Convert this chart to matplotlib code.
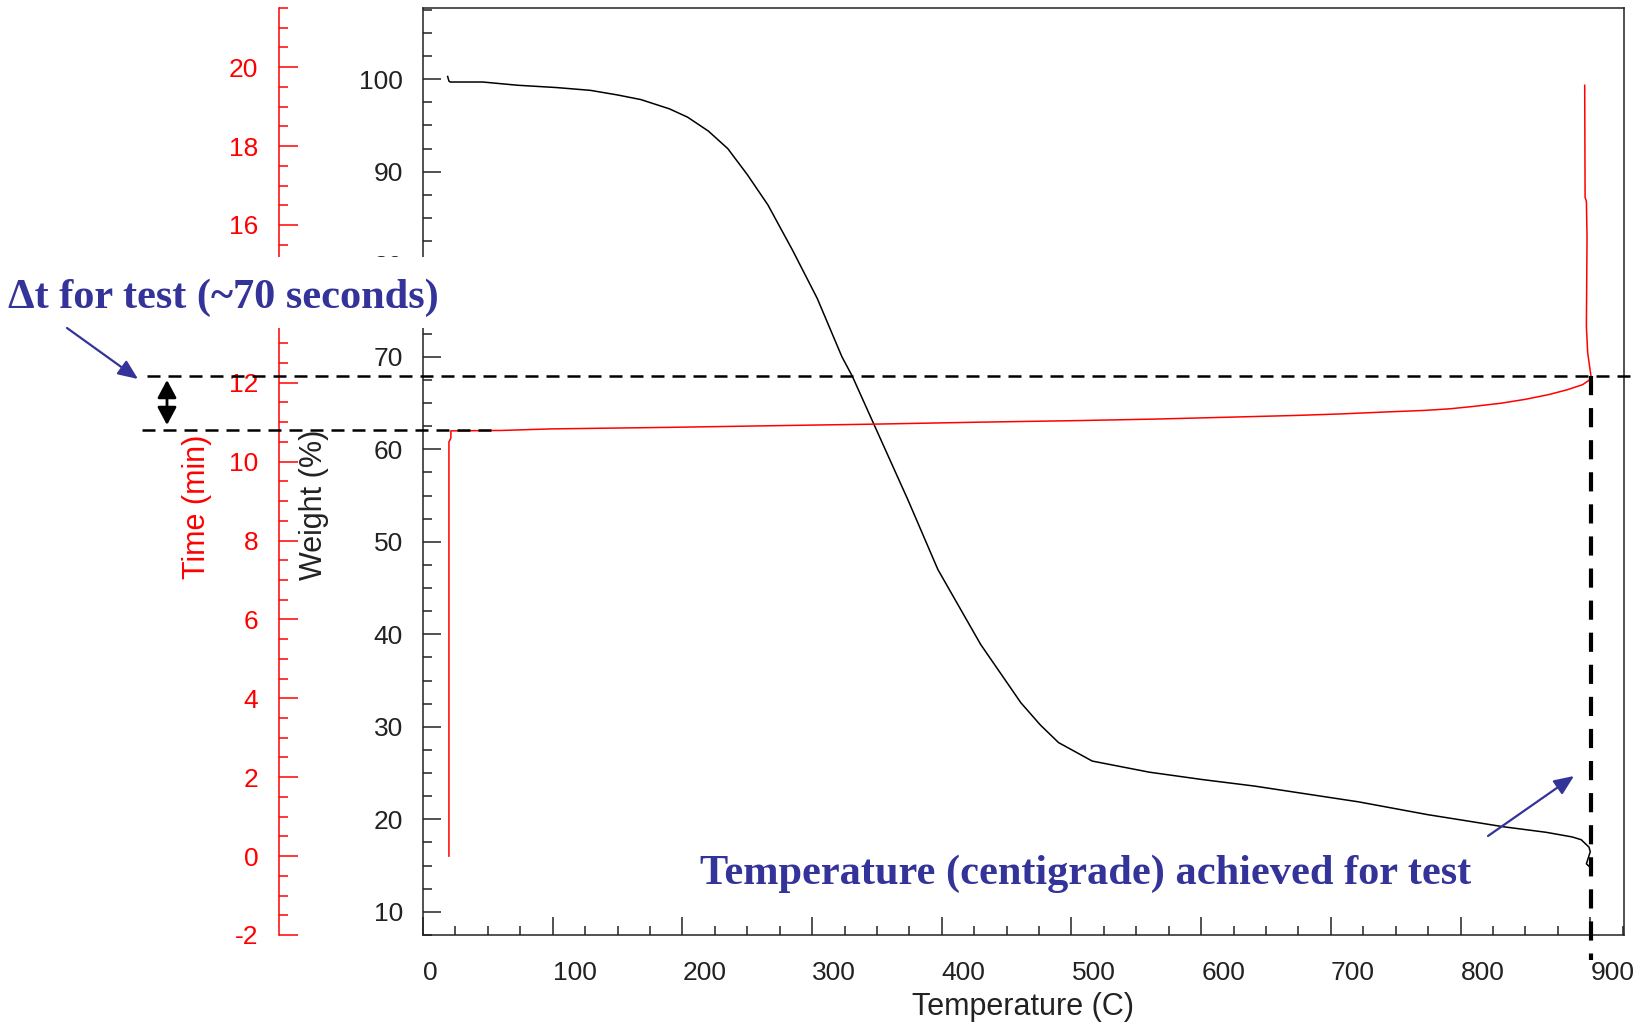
import matplotlib
matplotlib.use('Agg')
import matplotlib.pyplot as plt
from matplotlib.ticker import MultipleLocator
import matplotlib.transforms as mtransforms
from matplotlib.patches import Rectangle

plt.rcParams['font.family'] = ['Liberation Sans', 'DejaVu Sans']
plt.rcParams['axes.unicode_minus'] = False

# ---------------- data ----------------
# Weight (%) vs temperature (C)
temp_w = [19, 20, 21, 46, 73, 103, 129, 150, 168, 190, 204, 220, 235, 250, 266,
          285, 304, 323, 331, 348, 374, 397, 430, 461, 476, 490, 516, 560, 601,
          641, 688, 721, 775, 802, 833, 866, 886, 893, 899, 900, 897, 900]
weight = [100.3, 99.8, 99.7, 99.7, 99.35, 99.1, 98.8, 98.3, 97.8, 96.8, 95.9,
          94.4, 92.5, 89.7, 86.4, 81.5, 76.3, 70.0, 67.9, 62.6, 54.5, 47.0,
          38.9, 32.6, 30.2, 28.3, 26.3, 25.1, 24.3, 23.6, 22.6, 21.9, 20.5,
          19.9, 19.2, 18.6, 18.1, 17.8, 17.0, 16.5, 15.2, 14.8]

# Time (min) vs temperature (C)
temp_t = [20, 20, 21.5, 21.5, 60, 99, 192, 268, 347, 428, 504, 566, 625, 672,
          708, 743, 773, 792, 810, 831, 850, 868, 882, 894, 899, 900.5, 899.5,
          898, 897, 897.5, 897, 896, 895.7]
time_t = [0.0, 10.5, 10.6, 10.78, 10.79, 10.83, 10.87, 10.91, 10.95, 11.00,
          11.04, 11.08, 11.13, 11.17, 11.21, 11.26, 11.30, 11.34, 11.40, 11.48,
          11.58, 11.70, 11.82, 11.95, 12.06, 12.18, 12.41, 12.76, 13.42, 15.7,
          16.6, 16.7, 19.54]

x_ticks = [0, 100, 200, 300, 400, 500, 600, 700, 800, 900]
x_tick_labels = ['0', '100', '200', '300', '400', '500', '600', '700', '800', '900']
w_ticks = [10, 20, 30, 40, 50, 60, 70, 80, 90, 100]
t_ticks = [-2, 0, 2, 4, 6, 8, 10, 12, 14, 16, 18, 20]
t_tick_labels = ['-2', '0', '2', '4', '6', '8', '10', '12', '', '16', '18', '20']

# annotation values
t_test_start = 10.81     # min
t_test_end = 12.18       # min
T_achieved = 900.5       # C

# ---------------- figure ----------------
W_PX, H_PX = 1641, 1025
fig = plt.figure(figsize=(W_PX / 100, H_PX / 100), dpi=100)
ink = '#222222'
blue = '#333399'

L, R, T, B = 423, 1624, 8, 935
ax = fig.add_axes([L / W_PX, 1 - B / H_PX, (R - L) / W_PX, (B - T) / H_PX])
ax.plot(temp_w, weight, color='black', lw=1.1, zorder=3)
ax.set_xlim(0, 926)
ax.set_ylim(7.5, 107.7)
ax.set_xticks(x_ticks)
ax.set_xticklabels(x_tick_labels)
ax.set_yticks(w_ticks)
ax.xaxis.set_minor_locator(MultipleLocator(25))
ax.yaxis.set_minor_locator(MultipleLocator(2.5))
ax.tick_params(which='both', direction='in', colors=ink, width=1.1,
               top=False, right=False)
ax.tick_params(which='major', length=13)
ax.tick_params(which='minor', length=6.5)
ax.tick_params(axis='x', which='major', pad=19, labelsize=19)
ax.tick_params(axis='y', which='major', pad=14.5, labelsize=19)
for lbl in ax.get_xticklabels():
    lbl.set_horizontalalignment('left')
for s in ax.spines.values():
    s.set_color(ink)
    s.set_linewidth(1.1)

ax2 = ax.twinx()
ax2.plot(temp_t, time_t, color='red', lw=1.1, zorder=3)
ax2.set_ylim(-2, 21.5)
ax2.set_yticks(t_ticks)
ax2.set_yticklabels(t_tick_labels)
ax2.yaxis.set_minor_locator(MultipleLocator(0.5))
ax2.yaxis.tick_left()
for k in ['right', 'top', 'bottom']:
    ax2.spines[k].set_visible(False)
ax2.spines['left'].set_visible(True)
ax2.spines['left'].set_position(('axes', (279 - L) / (R - L)))
ax2.spines['left'].set_color('red')
ax2.spines['left'].set_linewidth(1.1)
ax2.tick_params(axis='y', which='both', direction='in', colors='red', width=1.1,
                left=True, right=False, labelleft=True, labelright=False)
ax2.tick_params(axis='y', which='major', length=13.5, pad=15, labelsize=19)
ax2.tick_params(axis='y', which='minor', length=6.5)

# axis labels
fig.text(314 / W_PX, 1 - 505 / H_PX, 'Weight (%)', rotation=90, ha='center',
         va='center', fontsize=22, color=ink)
fig.text(197 / W_PX, 1 - 507 / H_PX, 'Time (min)', rotation=90, ha='center',
         va='center', fontsize=22, color='red')
fig.text(1023 / W_PX, 1 - 1007 / H_PX, 'Temperature (C)', ha='center',
         va='center', fontsize=22, color=ink)

# dashed guide lines
blend_h = mtransforms.blended_transform_factory(ax2.transAxes, ax2.transData)
ax2.plot([(147 - L) / (R - L), (1632 - L) / (R - L)], [t_test_end, t_test_end],
         transform=blend_h, color='black', lw=1.8, ls=(0, (5.2, 3.2)),
         clip_on=False, zorder=5)
ax2.plot([(142 - L) / (R - L), (497 - L) / (R - L)], [t_test_start, t_test_start],
         transform=blend_h, color='black', lw=1.8, ls=(0, (5.2, 3.2)),
         clip_on=False, zorder=5)
blend_v = mtransforms.blended_transform_factory(ax2.transData, ax2.transAxes)
y_top = (t_test_end - (-2)) / (21.5 - (-2))
ax2.plot([T_achieved, T_achieved], [y_top, (B - 960) / (B - T)],
         transform=blend_v, color='black', lw=3, ls=(0, (4.6, 3.1)),
         clip_on=False, zorder=6)

# white box behind first annotation
fig.add_artist(Rectangle((0, 1 - 328 / H_PX), 445 / W_PX, 71 / H_PX,
                         transform=fig.transFigure, facecolor='white',
                         edgecolor='none', zorder=5))

serif = ['Liberation Serif', 'DejaVu Serif']
fig.text(8 / W_PX, 1 - 308 / H_PX, 'Δt for test (~70 seconds)', ha='left',
         va='baseline', fontsize=30.5, fontweight='bold', family=serif,
         color=blue, zorder=6)
fig.text(700 / W_PX, 1 - 884 / H_PX, 'Temperature (centigrade) achieved for test',
         ha='left', va='baseline', fontsize=30.5, fontweight='bold',
         family=serif, color=blue, zorder=6)

def fpx(x, y):
    return (x / W_PX, 1 - y / H_PX)

fig.add_artist(matplotlib.patches.FancyArrowPatch(
    fpx(67, 328), fpx(138, 379), transform=fig.transFigure,
    arrowstyle='-|>,head_length=0.4,head_width=0.17', mutation_scale=30,
    color=blue, lw=1.6, shrinkA=0, shrinkB=0, zorder=7))
fig.add_artist(matplotlib.patches.FancyArrowPatch(
    fpx(1488, 836), fpx(1574, 776), transform=fig.transFigure,
    arrowstyle='-|>,head_length=0.4,head_width=0.17', mutation_scale=30,
    color=blue, lw=1.6, shrinkA=0, shrinkB=0, zorder=7))
fig.add_artist(matplotlib.patches.FancyArrowPatch(
    fpx(167, 380), fpx(167, 425), transform=fig.transFigure,
    arrowstyle='<|-|>,head_length=0.43,head_width=0.23', mutation_scale=25,
    color='black', lw=2, shrinkA=0, shrinkB=0, zorder=7))

fig.savefig('out.png', dpi=100, facecolor='white')
